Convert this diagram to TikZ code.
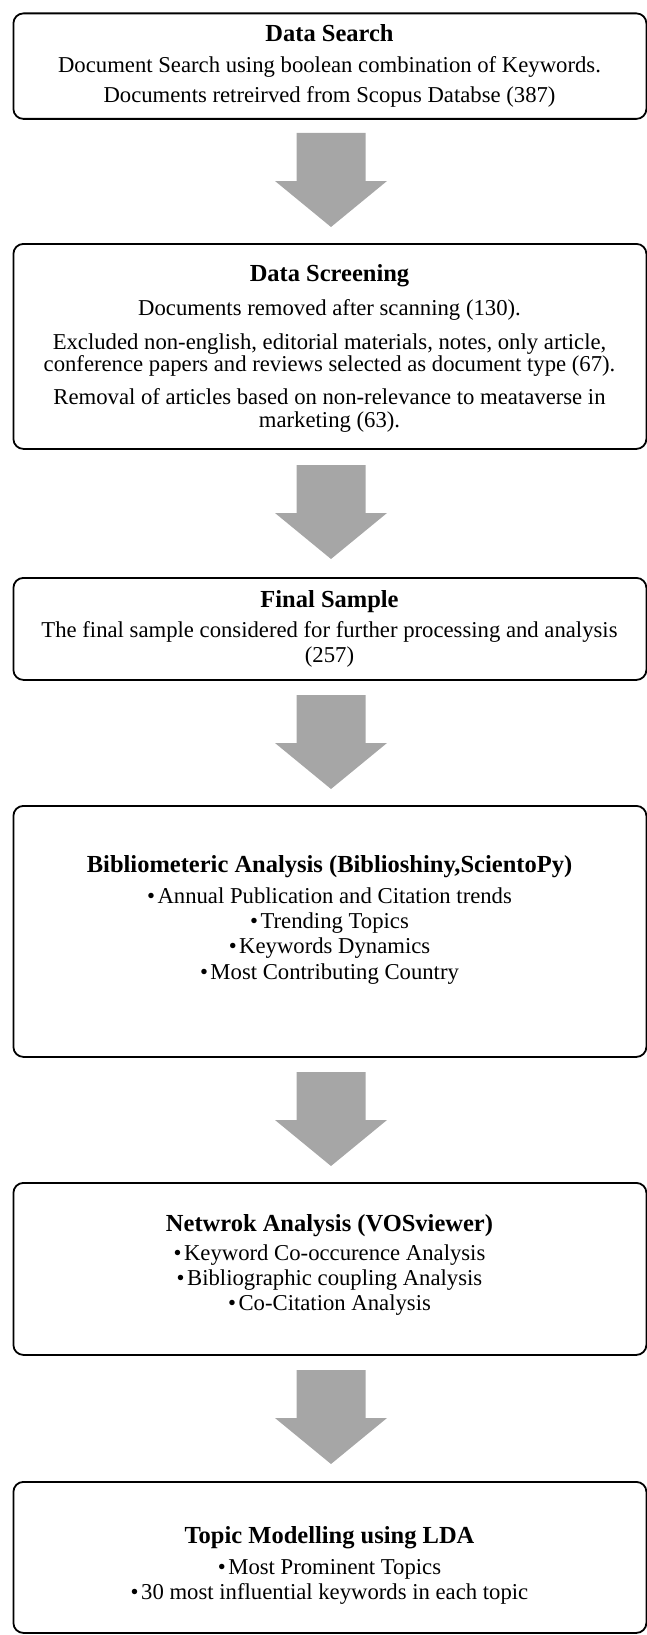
\documentclass[tikz,border=0pt]{standalone}
\usepackage{fontspec}
\setmainfont{Liberation Serif}
\usetikzlibrary{calc}
\definecolor{arrowgray}{RGB}{166,166,166}
\begin{document}
\begin{tikzpicture}[x=1pt,y=-1pt,
  box/.style={draw=black, line width=1.8pt, rounded corners=10pt, anchor=north west, minimum width=633pt, inner sep=0pt},
  ttl/.style={anchor=base, font=\fontsize{24.5}{27}\selectfont\bfseries, inner sep=0pt},
  txt/.style={anchor=base, font=\fontsize{22.7}{25}\selectfont, inner sep=0pt},
  blockarrow/.pic={\fill[arrowgray] (-34.5,0) -- (34.5,0) -- (34.5,48) -- (56,48) -- (0,94) -- (-56,48) -- (-34.5,48) -- cycle;}
]
\useasboundingbox (0,0) rectangle (647,1635);
\def\bul{•\hspace{2.5pt}}
% boxes
\node[box, minimum height=105.5pt] (b1) at (12.5,12.5) {};
\node[box, minimum height=205pt] (b2) at (12.5,243) {};
\node[box, minimum height=102pt] (b3) at (12.5,577) {};
\node[box, minimum height=251pt] (b4) at (12.5,805) {};
\node[box, minimum height=172pt] (b5) at (12.5,1182) {};
\node[box, minimum height=151pt] (b6) at (12.5,1481) {};
% arrows
\pic at (331,133) {blockarrow};
\pic at (331,465) {blockarrow};
\pic at (331,695) {blockarrow};
\pic at (331,1072) {blockarrow};
\pic at (331,1370) {blockarrow};
% box 1
\node[ttl] (t1) at (329.5,42) {Data Search};
\node[txt] (t1a) at (329.5,73) {Document Search using boolean combination of Keywords.};
\node[txt] (t1b) at (329.5,103) {Documents retreirved from Scopus Databse (387)};
% box 2
\node[ttl] (t2) at (329.5,281) {Data Screening};
\node[txt] (t2a) at (329.5,315) {Documents removed after scanning (130).};
\node[txt] (t2b) at (329.5,349) {Excluded non-english, editorial materials, notes, only article,};
\node[txt] (t2c) at (329.5,371) {conference papers and reviews selected as document type (67).};
\node[txt] (t2d) at (329.5,404) {Removal of articles based on non-relevance to meataverse in};
\node[txt] (t2e) at (329.5,427) {marketing (63).};
% box 3
\node[ttl] (t3) at (329.5,607) {Final Sample};
\node[txt] (t3a) at (329.5,637) {The final sample considered for further processing and analysis};
\node[txt] (t3b) at (329.5,662) {(257)};
% box 4
\node[ttl] (t4) at (329.5,872) {Bibliometeric Analysis (Biblioshiny,ScientoPy)};
\node[txt] (t4a) at (329.5,903) {\bul Annual Publication and Citation trends};
\node[txt] (t4b) at (329.5,928) {\bul Trending Topics};
\node[txt] (t4c) at (329.5,953) {\bul Keywords Dynamics};
\node[txt] (t4d) at (329.5,979) {\bul Most Contributing Country};
% box 5
\node[ttl] (t5) at (329.5,1231) {Netwrok Analysis (VOSviewer)};
\node[txt] (t5a) at (329.5,1260) {\bul Keyword Co-occurence Analysis};
\node[txt] (t5b) at (329.5,1285) {\bul Bibliographic coupling Analysis};
\node[txt] (t5c) at (329.5,1310) {\bul Co-Citation Analysis};
% box 6
\node[ttl] (t6) at (329.5,1543) {Topic Modelling using LDA};
\node[txt] (t6a) at (329.5,1574) {\bul Most Prominent Topics};
\node[txt] (t6b) at (329.5,1599) {\bul 30 most influential keywords in each topic};
\end{tikzpicture}
\end{document}
